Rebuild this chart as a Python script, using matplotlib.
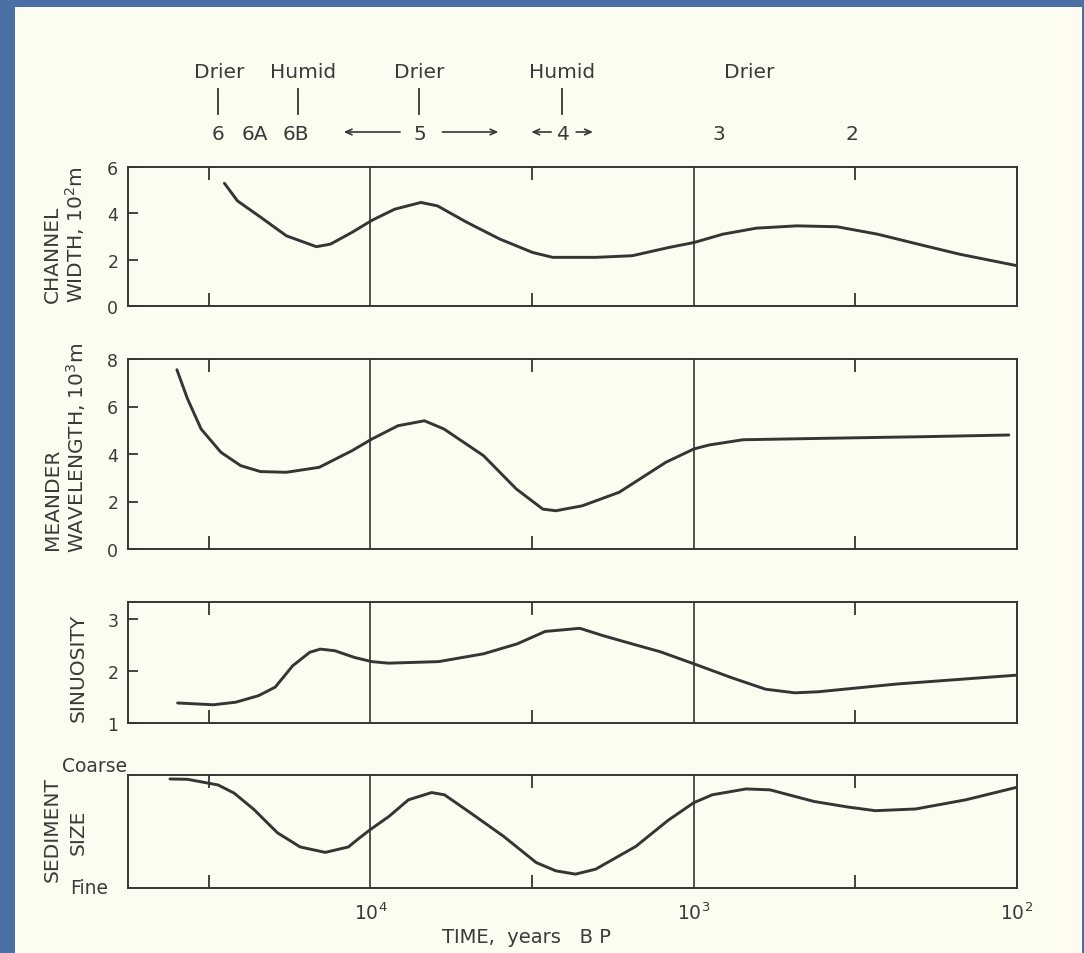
import numpy as np
import matplotlib
matplotlib.use('Agg')
import matplotlib.pyplot as plt
import matplotlib.transforms as mtransforms
from matplotlib.patches import Rectangle
from matplotlib.ticker import NullLocator

# --------- Data (time in years BP) ---------

channel_years = [28300, 25800, 21900, 18200, 14700, 13300, 11400, 9860, 8410, 6980, 6200,
                 5030, 3980, 3150, 2730, 2010, 1550, 1190, 998, 813, 640, 480, 360, 270,
                 193, 151, 100]
channel_width = [5.30, 4.54, 3.84, 3.03, 2.56, 2.67, 3.18, 3.71, 4.18, 4.47, 4.32,
                 3.61, 2.89, 2.31, 2.10, 2.10, 2.17, 2.53, 2.74, 3.10, 3.36, 3.46, 3.42, 3.10,
                 2.60, 2.24, 1.74]

meander_years = [39700, 36800, 33400, 29000, 25200, 21900, 18200, 14400, 11400, 9900, 8220,
                 6810, 5920, 4470, 3540, 2930, 2670, 2210, 1700, 1220, 1000, 896, 704, 396,
                 193, 106]
meander_wl = [7.55, 6.32, 5.05, 4.07, 3.51, 3.26, 3.23, 3.44, 4.14, 4.63, 5.19,
              5.40, 5.05, 3.93, 2.53, 1.68, 1.61, 1.82, 2.39, 3.65, 4.21, 4.38, 4.60, 4.66,
              4.73, 4.80]

sinuosity_years = [39500, 30600, 26100, 22200, 19700, 17400, 15400, 14300, 12900, 11200,
                   9920, 8800, 6150, 4470, 3520, 2880, 2250, 1910, 1490, 1270, 991, 771,
                   600, 487, 412, 235, 100]
sinuosity = [1.385, 1.35, 1.40, 1.525, 1.69, 2.10, 2.36, 2.42, 2.39, 2.26,
             2.18, 2.15, 2.18, 2.33, 2.52, 2.76, 2.82, 2.68, 2.49, 2.37, 2.13, 1.88,
             1.65, 1.58, 1.60, 1.75, 1.92]

# sediment size on a 0 (fine) .. 1 (coarse) scale
sediment_years = [41700, 36800, 29600, 26400, 22900, 19400, 16500, 13800, 11700, 10800,
                  10000, 8760, 7630, 6470, 5900, 4900, 3880, 3070, 2670, 2320, 2010, 1510,
                  1200, 1000, 877, 689, 581, 424, 333, 274, 206, 144, 100]
sediment = [0.965, 0.962, 0.912, 0.84, 0.694, 0.49, 0.365, 0.317, 0.365, 0.446,
            0.519, 0.635, 0.781, 0.845, 0.825, 0.665, 0.46, 0.227, 0.154, 0.125, 0.169, 0.37,
            0.60, 0.755, 0.825, 0.877, 0.869, 0.766, 0.717, 0.685, 0.70, 0.781, 0.892]

# climate / stage annotations along the top
climate_labels = ['Drier', 'Humid', 'Drier', 'Humid', 'Drier']
climate_years = [29400, 16200, 7050, 2550, 673]
climate_bars = [29700, 16700, 7060, 2550]
stage_labels = ['6', '6A', '6B', '5', '4', '3', '2']
stage_years = [29700, 22700, 17000, 7050, 2530, 838, 325]
stage_arrows = [(8100, 12100), (5990, 4020), (2760, 3180), (2310, 2050)]

xtick_years = [1e4, 1e3, 1e2]
xtick_labels = ['$10^4$', '$10^3$', '$10^2$']

# --------- Style ---------

plt.rcParams['font.family'] = ['DejaVu Sans']
plt.rcParams['mathtext.fontset'] = 'dejavusans'

INK = '#353535'
TEXT = '#3a3a3a'
PAPER = '#fcfcf1'
SLIDE = '#4b70a6'
W, H = 1084, 954
FS = 14.5

fig = plt.figure(figsize=(W / 100, H / 100), dpi=100)
fig.patch.set_facecolor(SLIDE)
fig.add_artist(Rectangle((15 / W, 0), 1067 / W, 946 / H, transform=fig.transFigure,
                         facecolor=PAPER, edgecolor='none', zorder=0))


def make_panel(top, bottom):
    ax = fig.add_axes([128 / W, 1 - bottom / H, 889 / W, (bottom - top) / H])
    ax.set_facecolor('none')
    ax.set_xscale('log')
    ax.set_xlim(10 ** 4.75, 100)
    for s in ax.spines.values():
        s.set_color(INK)
        s.set_linewidth(1.4)
    ax.axvline(1e4, color=INK, lw=1.2)
    ax.axvline(1e3, color=INK, lw=1.2)
    ax.set_xticks([10 ** 4.5, 10 ** 3.5, 10 ** 2.5])
    ax.set_xticklabels([])
    ax.xaxis.set_minor_locator(NullLocator())
    ax.tick_params(axis='x', direction='in', top=True, bottom=True, length=9.5,
                   width=1.3, color=INK)
    ax.tick_params(axis='y', direction='in', length=7, width=1.3, color=INK,
                   labelsize=12.5, labelcolor=TEXT, pad=7)
    return ax


ax1 = make_panel(168, 307)
ax2 = make_panel(360, 550)
ax3 = make_panel(603.3, 724)
ax4 = make_panel(776, 889.3)

curve = dict(color=INK, lw=2.1, solid_joinstyle='round', solid_capstyle='round')

ax1.plot(channel_years, channel_width, **curve)
ax1.set_ylim(0, 6)
ax1.set_yticks([0, 2, 4, 6])

ax2.plot(meander_years, meander_wl, **curve)
ax2.set_ylim(0, 8)
ax2.set_yticks([0, 2, 4, 6, 8])

ax3.plot(sinuosity_years, sinuosity, **curve)
ax3.set_ylim(1, 3.32)
ax3.set_yticks([1, 2, 3])

ax4.plot(sediment_years, sediment, **curve)
ax4.set_ylim(0, 1)
ax4.set_yticks([])

# --------- Y axis labels (two rotated lines each) ---------

def ylab(text, x, y, ha='left'):
    fig.text(x / W, 1 - y / H, text, rotation=90, rotation_mode='anchor',
             ha=ha, va='baseline', fontsize=FS, color=TEXT)


ylab('CHANNEL', 58, 303)
ylab('WIDTH, $10^2$m', 83, 303)
ylab('MEANDER', 58, 550)
ylab('WAVELENGTH, $10^3$m', 84, 553)
ylab('SINUOSITY', 84, 722)
ylab('SEDIMENT', 58, 830, ha='center')
ylab('SIZE', 84, 832, ha='center')

fig.text(62 / W, 1 - 772 / H, 'Coarse', ha='left', va='baseline', fontsize=13.5, color=TEXT)
fig.text(70 / W, 1 - 894 / H, 'Fine', ha='left', va='baseline', fontsize=13.5, color=TEXT)

# --------- Time axis labels ---------

bx = mtransforms.blended_transform_factory(ax4.transData, fig.transFigure)
for yr, lab in zip(xtick_years, xtick_labels):
    ax4.text(yr, 1 - 920 / H, lab, transform=bx, ha='center', va='baseline',
             fontsize=13.5, color=TEXT)
fig.text(526 / W, 1 - 943 / H, 'TIME,  years   B P', ha='center', va='baseline',
         fontsize=14, color=TEXT)

# --------- Climate and stage annotations ---------

tx = mtransforms.blended_transform_factory(ax1.transData, fig.transFigure)
for yr, lab in zip(climate_years, climate_labels):
    ax1.text(yr, 1 - 72 / H, lab, transform=tx, ha='center', va='center',
             fontsize=FS, color=TEXT, clip_on=False)
for yr in climate_bars:
    ax1.plot([yr, yr], [1 - 90 / H, 1 - 115 / H], transform=tx, color=INK, lw=1.3,
             clip_on=False)
for yr, lab in zip(stage_years, stage_labels):
    ax1.text(yr, 1 - 134 / H, lab, transform=tx, ha='center', va='center',
             fontsize=FS, color=TEXT, clip_on=False)
for start, end in stage_arrows:
    ax1.annotate('', xy=(end, 1 - 133 / H), xytext=(start, 1 - 133 / H),
                 xycoords=tx, textcoords=tx, annotation_clip=False,
                 arrowprops=dict(arrowstyle='->,head_length=0.45,head_width=0.2',
                                 color=INK, lw=1.2, shrinkA=0, shrinkB=0))

plt.savefig('out.png', dpi=100, facecolor=fig.get_facecolor())
